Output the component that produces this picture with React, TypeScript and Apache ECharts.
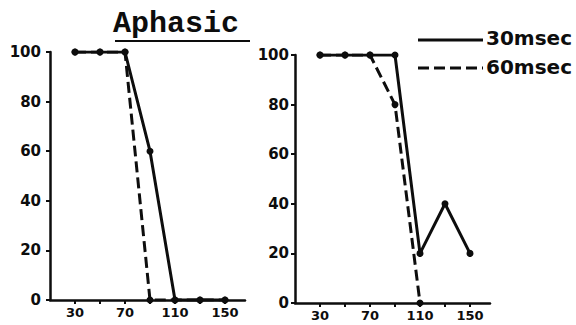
import React, { useEffect, useRef } from "react";
import * as echarts from "echarts";

// Stimulus values along the x axis, shared by both panels
const xValues = [30, 50, 70, 90, 110, 130, 150];
const xTickMarks = [30, 50, 70, 90, 110, 130, 150];
const xTickLabels = [30, 70, 110, 150];

// Left panel (% identification)
const leftSolid = [100, 100, 100, 60, 0, 0, 0];
const leftDashed = [100, 100, 100, 0, 0, 0, 0];

// Right panel
const rightSolid = [100, 100, 100, 100, 20, 40, 20];
const rightDashed = [100, 100, 100, 80, 0, null, null];

const legendSolid = "30msec";
const legendDashed = "60msec";
const titleText = "Aphasic";

const INK = "#0d0d0d";

const pairs = (ys: (number | null)[]) =>
  ys.map((y, i) => [xValues[i], y]).filter((p) => p[1] !== null);

export default function App() {
  const ref = useRef<HTMLDivElement>(null);

  useEffect(() => {
    if (!ref.current) return;
    const chart = echarts.init(ref.current, undefined, { renderer: "svg" });

    const xAxisBase = (gridIndex: number) => ({
      type: "value" as const,
      gridIndex,
      min: 10,
      max: 166,
      axisLine: { onZero: false, lineStyle: { color: INK, width: 2.5 } },
      axisTick: {
        customValues: xTickMarks,
        length: 4,
        lineStyle: { color: INK, width: 2 },
      },
      axisLabel: {
        customValues: xTickLabels,
        color: INK,
        fontFamily: "DejaVu Sans",
        fontWeight: "bold",
        fontSize: 13,
        margin: 6,
      },
      splitLine: { show: false },
    });

    const yAxisBase = (gridIndex: number, margin: number) => ({
      type: "value" as const,
      gridIndex,
      min: 0,
      max: 100,
      interval: 20,
      axisLine: { show: true, lineStyle: { color: INK, width: 2.5 } },
      axisTick: { show: true, length: 4, lineStyle: { color: INK, width: 2 } },
      axisLabel: {
        color: INK,
        fontFamily: "DejaVu Sans",
        fontWeight: "bold",
        fontSize: 15,
        margin,
      },
      splitLine: { show: false },
    });

    const lineSeries = (
      name: string,
      idx: number,
      ys: (number | null)[],
      dashed: boolean
    ) => ({
      name,
      type: "line" as const,
      xAxisIndex: idx,
      yAxisIndex: idx,
      data: pairs(ys),
      symbol: "circle",
      symbolSize: 7,
      showSymbol: true,
      itemStyle: { color: INK },
      lineStyle: {
        color: INK,
        width: 3,
        type: dashed ? [11, 5] : "solid",
      },
      z: dashed ? 3 : 4,
    });

    chart.setOption({
      animation: false,
      backgroundColor: "#ffffff",
      grid: [
        { left: 50, top: 52, width: 195, height: 248 },
        { left: 295, top: 55, width: 195, height: 248 },
      ],
      xAxis: [xAxisBase(0), xAxisBase(1)],
      yAxis: [yAxisBase(0, 9), yAxisBase(1, 6)],
      series: [
        lineSeries(legendSolid, 0, leftSolid, false),
        lineSeries(legendDashed, 0, leftDashed, true),
        lineSeries(legendSolid, 1, rightSolid, false),
        lineSeries(legendDashed, 1, rightDashed, true),
      ],
      graphic: [
        {
          type: "text",
          left: 113,
          top: 9,
          style: {
            text: titleText,
            fontFamily: "Liberation Mono",
            fontWeight: "bold",
            fontSize: 30,
            fill: INK,
          },
        },
        {
          type: "line",
          shape: { x1: 115, y1: 41, x2: 250, y2: 41 },
          style: { stroke: INK, lineWidth: 2 },
        },
        {
          type: "line",
          shape: { x1: 418, y1: 40, x2: 483, y2: 40 },
          style: { stroke: INK, lineWidth: 3 },
        },
        {
          type: "line",
          shape: { x1: 418, y1: 68, x2: 483, y2: 68 },
          style: { stroke: INK, lineWidth: 3, lineDash: [11, 5] },
        },
        {
          type: "text",
          x: 486,
          y: 38,
          style: {
            text: legendSolid,
            fontFamily: "DejaVu Sans",
            fontWeight: "bold",
            fontSize: 20,
            fill: INK,
            verticalAlign: "middle",
          },
        },
        {
          type: "text",
          x: 486,
          y: 67,
          style: {
            text: legendDashed,
            fontFamily: "DejaVu Sans",
            fontWeight: "bold",
            fontSize: 20,
            fill: INK,
            verticalAlign: "middle",
          },
        },
      ],
    });

    return () => chart.dispose();
  }, []);

  return (
    <div
      ref={ref}
      style={{
        position: "fixed",
        left: 0,
        top: 0,
        width: 576,
        height: 325,
        background: "#ffffff",
      }}
    />
  );
}
